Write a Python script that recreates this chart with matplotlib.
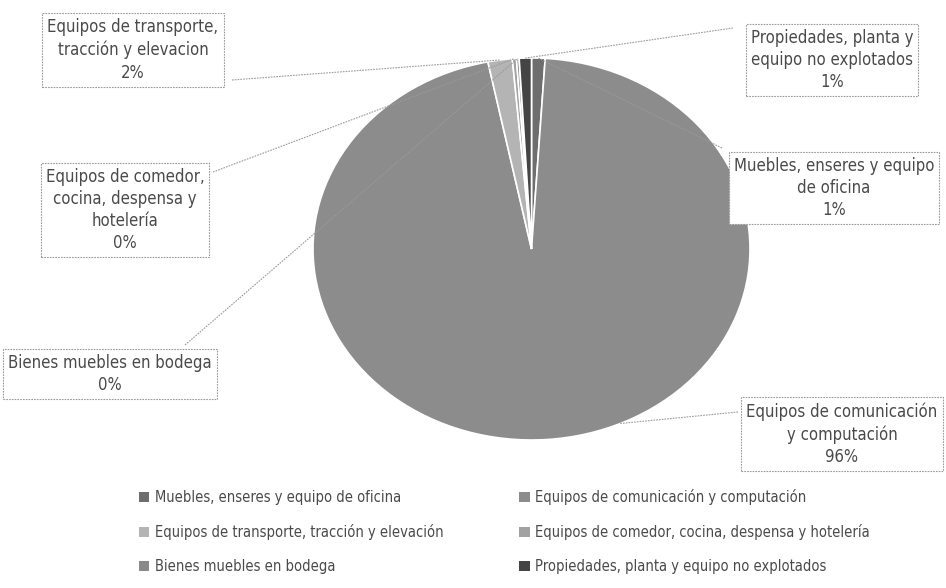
import matplotlib
matplotlib.use("Agg")
import matplotlib.pyplot as plt
import numpy as np
from matplotlib.lines import Line2D

plt.rcParams['font.family'] = ['DejaVu Sans']
plt.rcParams['font.stretch'] = 'condensed'

categorias = ["Muebles, enseres y equipo de oficina",
              "Equipos de comunicación y computación",
              "Equipos de transporte, tracción y elevación",
              "Equipos de comedor, cocina, despensa y hotelería",
              "Bienes muebles en bodega",
              "Propiedades, planta y equipo no explotados"]
valores = [1.0, 95.8, 1.8, 0.3, 0.2, 0.9]
etiquetas = ["Muebles, enseres y equipo\nde oficina\n1%",
             "Equipos de comunicación\ny computación\n96%",
             "Equipos de transporte,\ntracción y elevacion\n2%",
             "Equipos de comedor,\ncocina, despensa y\nhotelería\n0%",
             "Bienes muebles en bodega\n0%",
             "Propiedades, planta y\nequipo no explotados\n1%"]
colores = ["#6e6e6e", "#8c8c8c", "#b4b4b4", "#a2a2a2", "#8a8a8a", "#444444"]

W, H = 946, 588
fig = plt.figure(figsize=(W / 100, H / 100), dpi=100)


def px(x, y):
    # pixel position (from top-left) -> figure fraction
    return x / W, 1 - y / H


# pie axes spans the pie bounding box in pixels
x0, y0, x1, y1 = 313, 58, 750, 440
ax = fig.add_axes([x0 / W, 1 - y1 / H, (x1 - x0) / W, (y1 - y0) / H])
wedges, _ = ax.pie(valores, colors=colores, startangle=90, counterclock=False,
                   wedgeprops=dict(edgecolor="white", linewidth=1.2))
ax.set_xlim(-1, 1)
ax.set_ylim(-1, 1)
ax.set_aspect("auto")
ax.axis("off")

# label box centres (px) and leader line start (px)
cajas = [(834, 188), (842, 434), (133, 50), (125, 210), (110, 374), (832, 60)]
inicio = [(722, 148), (738, 412), (232, 80), (213, 172), (185, 345), (733, 28)]

for w, (cx, cy), (sx, sy), txt in zip(wedges, cajas, inicio, etiquetas):
    ang = np.deg2rad((w.theta1 + w.theta2) / 2)
    if txt.startswith("Equipos de comunicación"):
        ang = np.deg2rad(-66)
    pt = ax.transData.transform((np.cos(ang), np.sin(ang)))
    end = fig.transFigure.inverted().transform(pt)
    s = px(sx, sy)
    fig.add_artist(Line2D([s[0], end[0]], [s[1], end[1]], color="#9a9a9a",
                          lw=0.8, linestyle=(0, (1.5, 1)), transform=fig.transFigure))
    fx, fy = px(cx, cy)
    fig.text(fx, fy, txt, ha="center", va="center", fontsize=12,
             color="#4a4a4a", linespacing=1.3,
             bbox=dict(boxstyle="square,pad=0.3", facecolor="white",
                       edgecolor="#9a9a9a", linewidth=0.8, linestyle=(0, (1.5, 1))))

# legend (row-major order as in the original)
orden = [0, 2, 4, 1, 3, 5]
handles = [plt.Rectangle((0, 0), 1, 1, facecolor=colores[i]) for i in orden]
labels = [categorias[i] for i in orden]
fig.legend(handles, labels, loc="upper left", bbox_to_anchor=(0.133, 0.19),
           ncol=2, frameon=False, fontsize=10.5, handlelength=0.7,
           handleheight=0.7, handletextpad=0.4, columnspacing=5.2,
           labelspacing=1.3, labelcolor="#4a4a4a")

fig.savefig("out.png", dpi=100, facecolor="white")
